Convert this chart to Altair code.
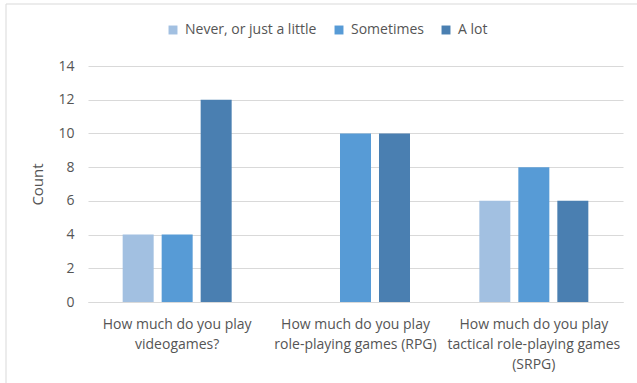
import altair as alt
import pandas as pd

questions = [
    "How much do you play|videogames?",
    "How much do you play|role-playing games (RPG)",
    "How much do you play|tactical role-playing games|(SRPG)",
]
answers = ["Never, or just a little", "Sometimes", "A lot"]
never_vals = [4, 0, 6]
some_vals = [4, 10, 8]
alot_vals = [12, 10, 6]
colors = ["#A2C0E1", "#579BD6", "#4A7FB1"]

rows = []
for i, q in enumerate(questions):
    for a, vals in zip(answers, [never_vals, some_vals, alot_vals]):
        rows.append({"question": q, "answer": a, "count": vals[i]})
df = pd.DataFrame(rows)

FONT = "Open Sans"
TXT = "#555555"

bars = alt.Chart(df).mark_bar().encode(
    x=alt.X("question:N", sort=questions,
            scale=alt.Scale(paddingInner=0, paddingOuter=0),
            axis=alt.Axis(title=None, labelAngle=0, labelExpr="split(datum.label, '|')",
                          labelFontSize=14, labelColor=TXT, labelFont=FONT,
                          labelPadding=15, labelLineHeight=20,
                          ticks=False, domainColor="#D9D9D9", grid=False)),
    xOffset=alt.XOffset("answer:N", sort=answers,
                        scale=alt.Scale(paddingInner=0.205, paddingOuter=0.889)),
    y=alt.Y("count:Q", scale=alt.Scale(domain=[0, 14]),
            axis=alt.Axis(title="Count", values=list(range(0, 15, 2)),
                          titleFontSize=15, titleFont=FONT, titleColor=TXT,
                          titleFontWeight="normal", titlePadding=12,
                          labelFontSize=14, labelColor=TXT, labelFont=FONT,
                          labelPadding=14, ticks=False, domain=False,
                          gridColor="#D9D9D9", gridWidth=1)),
    color=alt.Color("answer:N", sort=answers,
                    scale=alt.Scale(domain=answers, range=colors),
                    legend=alt.Legend(title=None, orient="none", direction="horizontal",
                                      legendX=78, legendY=-43, columns=3, columnPadding=15,
                                      symbolType="square", symbolSize=80, symbolStrokeWidth=0,
                                      labelFontSize=14, labelFont=FONT, labelColor=TXT,
                                      labelOffset=5)),
)

border = alt.Chart(alt.Data(values=[{}])).mark_rect(
    fill=None, stroke="#D9D9D9", strokeWidth=1
).encode(x=alt.value(-82), y=alt.value(-62), x2=alt.value(640), y2=alt.value(400))

chart = alt.layer(border, bars).properties(width=535, height=236).properties(
    autosize=alt.AutoSizeParams(type="none"),
    padding={"left": 88, "top": 66, "right": 14, "bottom": 81},
    background="white",
).configure_view(stroke=None)

chart.save("out.html", embed_options={"renderer": "svg", "actions": False})
